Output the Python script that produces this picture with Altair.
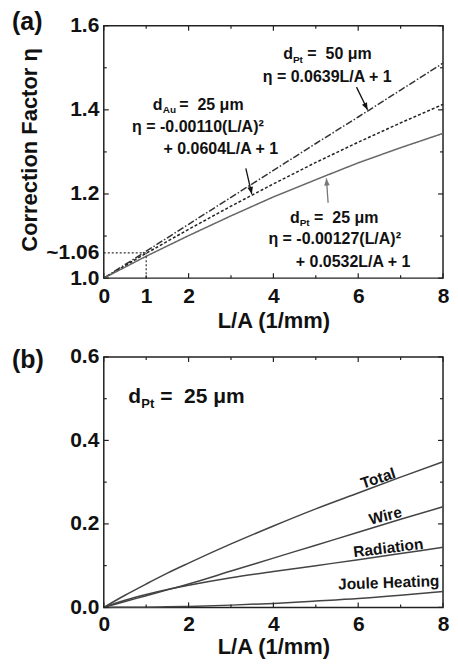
import altair as alt
import pandas as pd

FONT = "Liberation Sans, Arial, sans-serif"
W = 340
HA, HB = 253, 251

# ---------------- panel (a) data ----------------
xa = [0, 1, 2, 3, 4, 5, 6, 7, 8]
eta_pt50 = [1.000, 1.064, 1.128, 1.192, 1.256, 1.320, 1.383, 1.447, 1.511]
eta_au25 = [1.000, 1.059, 1.116, 1.171, 1.224, 1.275, 1.323, 1.369, 1.413]
eta_pt25 = [1.000, 1.052, 1.101, 1.148, 1.193, 1.234, 1.274, 1.310, 1.344]
series_a = ["dPt50", "dAu25", "dPt25"]

xa_labels = [0, 1, 2, 4, 6, 8]
ya_labels = [1.0, 1.06, 1.2, 1.4, 1.6]
xa_major = [0, 2, 4, 6, 8]
xa_minor = [1, 3, 5, 7]
ya_major = [1.0, 1.2, 1.4, 1.6]
ya_minor = [1.1, 1.3, 1.5]

# guide lines at ~1.06
guide_h = {"x": [0], "x2": [1], "y": [1.06]}
guide_v = {"x": [1], "y": [1.0], "y2": [1.06]}

# arrows (start -> tip), head rotation
arrow_x0 = [5.96, 3.35, 5.29]
arrow_y0 = [1.454, 1.261, 1.179]
arrow_x1 = [6.22, 3.49, 5.25]
arrow_y1 = [1.400, 1.200, 1.237]
arrow_ang = [334.5, 347, 175.4]
arrow_col = ["#111111", "#111111", "#777777"]

# annotation text (a)
ann_a_text = ["η = 0.0639L/A + 1",
              "η = -0.00110(L/A)²", "+ 0.0604L/A + 1",
              "η = -0.00127(L/A)²", "+ 0.0532L/A + 1"]
ann_a_x = [5.27, 2.22, 2.76, 5.445, 5.88]
ann_a_y = [1.478, 1.360, 1.306, 1.094, 1.038]

d_a_x = [4.23, 1.156, 4.39]
d_a_y = [1.532, 1.412, 1.1435]
sub_a_text = ["Pt", "Au", "Pt"]
sub_a_x = [4.46, 1.39, 4.62]
sub_a_y = [1.519, 1.399, 1.131]
rest_a_text = ["=\u00a0 50 μm", "=\u00a0 25 μm", "=\u00a0 25 μm"]
rest_a_x = [4.80, 1.78, 4.96]

# ---------------- panel (b) data ----------------
xb = [0, 0.5, 1, 1.5, 2, 3, 4, 5, 6, 7, 8]
total = [0, 0.029, 0.056, 0.082, 0.106, 0.152, 0.195, 0.236, 0.274, 0.312, 0.349]
wire = [0, 0.014, 0.028, 0.042, 0.056, 0.087, 0.118, 0.149, 0.180, 0.211, 0.241]
radiation = [0, 0.017, 0.031, 0.043, 0.053, 0.071, 0.086, 0.100, 0.114, 0.129, 0.144]
joule = [0, 0.0002, 0.0006, 0.0014, 0.0024, 0.0054, 0.0095, 0.015, 0.021, 0.029, 0.038]
series_b = ["Total", "Wire", "Radiation", "Joule Heating"]

xb_labels = [0, 2, 4, 6, 8]
yb_labels = [0.0, 0.2, 0.4, 0.6]
yb_major = [0.0, 0.2, 0.4, 0.6]
yb_minor = [0.1, 0.3, 0.5]

lab_b_text = ["Total", "Wire", "Radiation", "Joule Heating"]
lab_b_x = [6.47, 6.64, 6.71, 6.72]
lab_b_y = [0.309, 0.219, 0.142, 0.059]
lab_b_ang = [342, 346, 353, 358]


def ticks(xmaj, xmin, ymaj, ymin, H):
    layers = []
    col = "#222222"
    for vals, ln in ((xmaj, 5), (xmin, 3)):
        d = pd.DataFrame({"x": vals})
        layers.append(alt.Chart(d).mark_rule(color=col, strokeWidth=1.2).encode(
            x="x:Q", y=alt.value(H), y2=alt.value(H - ln)))
        layers.append(alt.Chart(d).mark_rule(color=col, strokeWidth=1.2).encode(
            x="x:Q", y=alt.value(0), y2=alt.value(ln)))
    for vals, ln in ((ymaj, 5), (ymin, 3)):
        d = pd.DataFrame({"y": vals})
        layers.append(alt.Chart(d).mark_rule(color=col, strokeWidth=1.2).encode(
            y="y:Q", x=alt.value(0), x2=alt.value(ln)))
        layers.append(alt.Chart(d).mark_rule(color=col, strokeWidth=1.2).encode(
            y="y:Q", x=alt.value(W), x2=alt.value(W - ln)))
    return layers


def txt(df, size, align="center", color="#111111", baseline="middle", angle=None):
    kw = dict(font=FONT, fontSize=size, fontWeight="bold", align=align,
              baseline=baseline, color=color)
    if angle is not None:
        kw["angle"] = angle
    return alt.Chart(df).mark_text(**kw)


def place(chart, tcol="t"):
    return chart.encode(x="x:Q", y="y:Q", text=f"{tcol}:N")


# ---------------- build panel (a) ----------------
rows = []
for i, x in enumerate(xa):
    rows.append({"x": x, "y": eta_pt50[i], "s": series_a[0]})
    rows.append({"x": x, "y": eta_au25[i], "s": series_a[1]})
    rows.append({"x": x, "y": eta_pt25[i], "s": series_a[2]})
dfa = pd.DataFrame(rows)

xscale_a = alt.Scale(domain=[0, 8], nice=False, zero=False)
yscale_a = alt.Scale(domain=[1.0, 1.6], nice=False, zero=False)

lines_a = alt.Chart(dfa).mark_line(strokeWidth=1.5).encode(
    x=alt.X("x:Q", scale=xscale_a,
            axis=alt.Axis(values=xa_labels, format="d", title="L/A (1/mm)")),
    y=alt.Y("y:Q", scale=yscale_a,
            axis=alt.Axis(values=ya_labels, title="Correction Factor η",
                          labelExpr="datum.value == 1.06 ? '~1.06' : format(datum.value, '.1f')",
                          titleX=-62, titleY=124)),
    color=alt.Color("s:N", legend=None,
                    scale=alt.Scale(domain=series_a, range=["#333333", "#222222", "#666666"])),
    strokeDash=alt.StrokeDash("s:N", legend=None,
                              scale=alt.Scale(domain=series_a, range=[[7, 2, 1.5, 2], [3, 2], [1, 0]])),
    detail="s:N",
)

gh = alt.Chart(pd.DataFrame(guide_h)).mark_rule(color="#333", strokeWidth=1.2, strokeDash=[2, 2]).encode(
    x="x:Q", x2="x2:Q", y="y:Q")
gv = alt.Chart(pd.DataFrame(guide_v)).mark_rule(color="#333", strokeWidth=1.2, strokeDash=[2, 2]).encode(
    x="x:Q", y="y:Q", y2="y2:Q")

adf = pd.DataFrame({"x": arrow_x0, "y": arrow_y0, "x1": arrow_x1, "y1": arrow_y1,
                    "ang": arrow_ang, "c": arrow_col})
arrows = alt.Chart(adf).mark_rule(strokeWidth=1.3).encode(
    x="x:Q", y="y:Q", x2="x1:Q", y2="y1:Q",
    color=alt.Color("c:N", scale=None))
hdf = pd.DataFrame({"x": arrow_x1, "y": arrow_y1, "ang": arrow_ang, "c": arrow_col})
heads = alt.Chart(hdf).mark_point(shape="M0,0L-0.4,-1L0.4,-1Z", filled=True, opacity=1, size=200).encode(
    x="x:Q", y="y:Q",
    angle=alt.Angle("ang:Q", scale=None), color=alt.Color("c:N", scale=None))

ann_a = place(txt(pd.DataFrame({"x": ann_a_x, "y": ann_a_y, "t": ann_a_text}), 16))
d_a = place(txt(pd.DataFrame({"x": d_a_x, "y": d_a_y, "t": ["d", "d", "d"]}), 16, align="left"))
sub_a = place(txt(pd.DataFrame({"x": sub_a_x, "y": sub_a_y, "t": sub_a_text}), 10, align="left"))
rest_a = place(txt(pd.DataFrame({"x": rest_a_x, "y": d_a_y, "t": rest_a_text}), 16, align="left"))

tag_a = txt(pd.DataFrame({"t": ["(a)"]}), 25, align="left").encode(
    x=alt.value(-92), y=alt.value(-4), text="t:N")

panel_a = alt.layer(lines_a, gh, gv, arrows, heads, ann_a, d_a, sub_a, rest_a, tag_a,
                    *ticks(xa_major, xa_minor, ya_major, ya_minor, HA)).properties(width=W, height=HA)

# ---------------- build panel (b) ----------------
rows = []
for i, x in enumerate(xb):
    for s, arr in zip(series_b, (total, wire, radiation, joule)):
        rows.append({"x": x, "y": arr[i], "s": s})
dfb = pd.DataFrame(rows)

lines_b = alt.Chart(dfb).mark_line(strokeWidth=1.5, color="#444444", interpolate="monotone").encode(
    x=alt.X("x:Q", scale=alt.Scale(domain=[0, 8], nice=False),
            axis=alt.Axis(values=xb_labels, format="d", title="L/A (1/mm)",
                          labelPadding=6, titlePadding=2)),
    y=alt.Y("y:Q", scale=alt.Scale(domain=[0, 0.6], nice=False),
            axis=alt.Axis(values=yb_labels, format=".1f", title=None)),
    detail="s:N",
)

lab_layers = []
for t, x, y, a in zip(lab_b_text, lab_b_x, lab_b_y, lab_b_ang):
    lab_layers.append(place(txt(pd.DataFrame({"x": [x], "y": [y], "t": [t]}), 15.5, angle=a)))

d_b = place(txt(pd.DataFrame({"x": [0.578], "y": [0.503], "t": ["d"]}), 21, align="left"))
sub_b = place(txt(pd.DataFrame({"x": [0.885], "y": [0.487], "t": ["Pt"]}), 13, align="left"))
rest_b = place(txt(pd.DataFrame({"x": [1.33], "y": [0.503], "t": ["=\u00a0 25 μm"]}), 21, align="left"))

tag_b = txt(pd.DataFrame({"t": ["(b)"]}), 25, align="left").encode(
    x=alt.value(-92), y=alt.value(3), text="t:N")

panel_b = alt.layer(lines_b, *lab_layers, d_b, sub_b, rest_b, tag_b,
                    *ticks(xa_major, xa_minor, yb_major, yb_minor, HB)).properties(width=W, height=HB)

chart = alt.vconcat(panel_a, panel_b, spacing=13).properties(
    padding={"left": 3, "top": 0, "right": 0, "bottom": 0}
).configure_view(
    stroke="#222222", strokeWidth=1.5
).configure_axis(
    grid=False, ticks=False, domain=False,
    labelFont=FONT, labelFontSize=21, labelFontWeight="bold", labelColor="#111111",
    labelFlush=False, labelOverlap=False,
    titleFont=FONT, titleFontSize=22, titleFontWeight="bold", titleColor="#111111",
).configure_axisX(labelPadding=7, titlePadding=4).configure_axisY(labelPadding=5)

chart.save("out.html", embed_options={"renderer": "svg", "actions": False})
